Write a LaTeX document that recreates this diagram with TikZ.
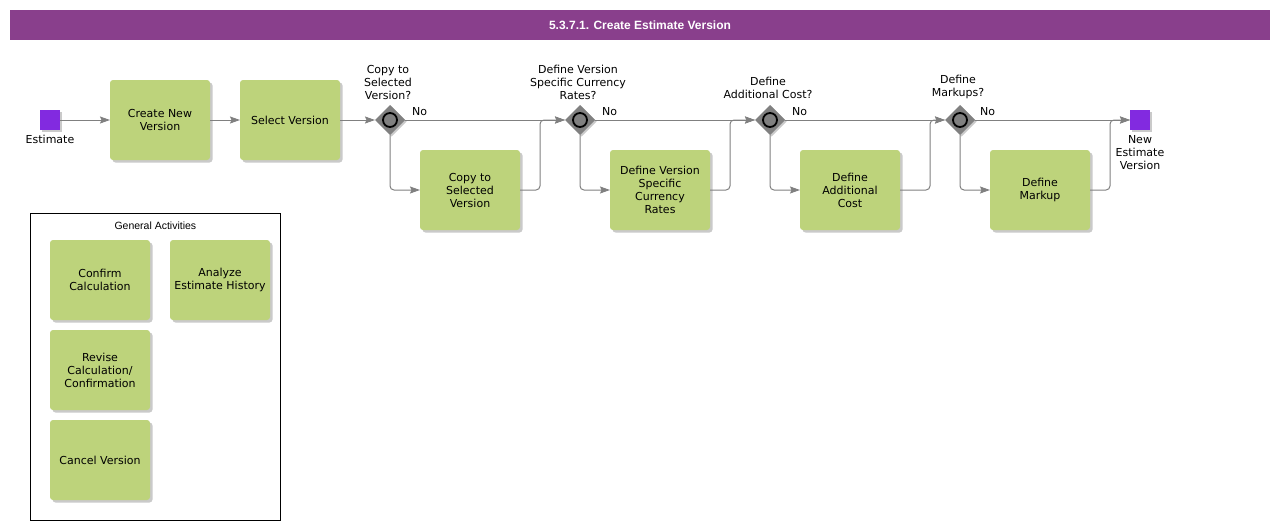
\documentclass[tikz,border=0pt]{standalone}
\usepackage{fontspec}
\setmainfont{DejaVu Sans}
\newfontfamily\arialfont{Liberation Sans}
\usetikzlibrary{shapes.geometric, arrows.meta, positioning, shadows}

\definecolor{titlepurple}{RGB}{137,63,140}
\definecolor{eventpurple}{RGB}{130,42,224}
\definecolor{taskgreen}{RGB}{189,211,123}
\definecolor{flowgray}{RGB}{128,128,128}

\newcommand{\taskfont}{\fontsize{11}{13}\selectfont}

\begin{document}
\begin{tikzpicture}[
    x=1pt, y=-1pt,
    node distance=30pt and 30pt,
    task/.style={rectangle, rounded corners=3pt, fill=taskgreen, minimum width=100pt, minimum height=80pt,
        inner sep=2pt, outer sep=0pt, align=center, font=\taskfont,
        drop shadow={shadow xshift=2.5pt, shadow yshift=-2.5pt, fill=black!35, opacity=0.6}},
    event/.style={rectangle, fill=eventpurple, minimum size=20pt, inner sep=0pt, outer sep=0pt,
        drop shadow={shadow xshift=1.5pt, shadow yshift=-1.5pt, fill=black!35, opacity=0.6}},
    gateway/.style={diamond, fill=flowgray, minimum width=30pt, minimum height=30pt, inner sep=0pt, outer sep=0pt,
        drop shadow={shadow xshift=1.5pt, shadow yshift=-1.5pt, fill=black!35, opacity=0.6},
        path picture={\draw[black, line width=1.8pt, fill=flowgray] (path picture bounding box.center) circle (7pt);}},
    label/.style={font=\taskfont, align=center, inner sep=0pt},
    flow/.style={-{Stealth[length=10pt, width=7pt, inset=1.5pt]}, flowgray, line width=1pt, rounded corners=4pt}
]
\useasboundingbox (0,0) rectangle (1280,530);

% Title bar
\node[fill=titlepurple, minimum width=1260pt, minimum height=30pt, text=white,
    font=\arialfont\bfseries\fontsize{12}{14}\selectfont] (title) at (640,25) {5.3.7.1. Create Estimate Version};

% Events
\node[event] (start) at (50,120) {};
\node[label, below=5pt of start] (startlbl) {Estimate};

% Main row
\node[task, right=50pt of start] (create) {Create New\\Version};
\node[task, right=of create] (select) {Select Version};
\node[gateway, right=35pt of select] (gcopy) {};
\node[gateway, right=160pt of gcopy] (grates) {};
\node[gateway, right=160pt of grates] (gcost) {};
\node[gateway, right=160pt of gcost] (gmarkup) {};
\node[event, right=155pt of gmarkup] (finish) {};
\node[label, below=5pt of finish] (finishlbl) {New\\Estimate\\Version};

% Optional tasks
\node[task, below right=30pt and 30pt of gcopy.center] (copy) {Copy to\\Selected\\Version};
\node[task, below right=30pt and 30pt of grates.center] (rates) {Define Version\\Specific\\Currency\\Rates};
\node[task, below right=30pt and 30pt of gcost.center] (cost) {Define\\Additional\\Cost};
\node[task, below right=30pt and 30pt of gmarkup.center] (markup) {Define\\Markup};

% Gateway questions
\node[label, above=5pt of gcopy.north, xshift=-2pt] (qcopy) {Copy to\\Selected\\Version?};
\node[label, above=5pt of grates.north, xshift=-2pt] (qrates) {Define Version\\Specific Currency\\Rates?};
\node[label, above=6pt of gcost.north, xshift=-2pt] (qcost) {Define\\Additional Cost?};
\node[label, above=6pt of gmarkup.north, xshift=-2pt] (qmarkup) {Define\\Markups?};

% No labels
\node[label, above right=4pt and 7pt of gcopy.east] (nocopy) {No};
\node[label, above right=4pt and 7pt of grates.east] (norates) {No};
\node[label, above right=4pt and 7pt of gcost.east] (nocost) {No};
\node[label, above right=4pt and 5pt of gmarkup.east] (nomarkup) {No};

% Sequence flows
\draw[flow] (start) -- (create);
\draw[flow] (create) -- (select);
\draw[flow] (select) -- (gcopy);
\draw[flow] (gcopy) -- (grates);
\draw[flow] (grates) -- (gcost);
\draw[flow] (gcost) -- (gmarkup);
\draw[flow] (gmarkup) -- (finish);

% Yes branches
\draw[flow] (gcopy.south) |- (copy.west);
\draw[flow] (copy.east) -- ++(20,0) |- (grates.west);
\draw[flow] (grates.south) |- (rates.west);
\draw[flow] (rates.east) -- ++(20,0) |- (gcost.west);
\draw[flow] (gcost.south) |- (cost.west);
\draw[flow] (cost.east) -- ++(30,0) |- (gmarkup.west);
\draw[flow] (gmarkup.south) |- (markup.west);
\draw[flow] (markup.east) -- ++(20,0) |- (finish.west);

% General activities
\node[draw=black, line width=0.8pt, minimum width=250pt, minimum height=307pt, anchor=north west, inner sep=0pt] (general) at (30,213) {};
\node[below=9pt of general.north, inner sep=0pt, font=\arialfont\fontsize{10.5}{12}\selectfont] (generallbl) {General Activities};
\node[task, below right=27pt and 20pt of general.north west] (confirm) {Confirm\\Calculation};
\node[task, right=20pt of confirm] (history) {Analyze\\Estimate History};
\node[task, below=10pt of confirm] (revise) {Revise\\Calculation/\\Confirmation};
\node[task, below=10pt of revise] (cancel) {Cancel Version};

\end{tikzpicture}
\end{document}
